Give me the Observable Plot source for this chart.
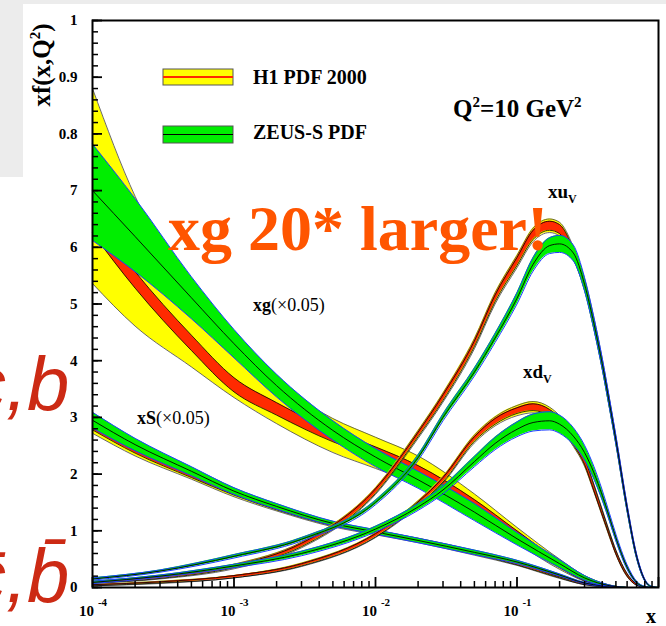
<!DOCTYPE html>
<html><head><meta charset="utf-8">
<script src="https://cdn.jsdelivr.net/npm/d3@7"></script>
<script src="https://cdn.jsdelivr.net/npm/@observablehq/plot@0.6"></script>
<style>
body{margin:0;background:#fff;}
#wrap{position:relative;width:666px;height:626px;overflow:hidden;background:#fff;}
.abs{position:absolute;}
</style></head>
<body><div id="wrap">
<div class="abs" style="left:0;top:0;width:666px;height:4px;background:#ececec"></div>
<div class="abs" style="left:0;top:0;width:23px;height:177px;background:#ececec"></div>
<div id="chart" class="abs" style="left:0;top:0"></div>
<svg id="ov" class="abs" width="666" height="626" style="left:0;top:0;overflow:hidden">
 <g font-family="Liberation Sans, Arial, sans-serif" font-style="italic" fill="#cc2a14" font-size="76">
  <text x="-32" y="410">c,b</text>
  <text x="-32" y="602">c&#772;,b&#772;</text>
 </g>
 <g font-family="Liberation Serif, Times New Roman, serif" font-weight="bold" fill="#000">
  <rect x="163" y="69" width="70" height="16" fill="#ffff00" stroke="#555" stroke-width="1"/>
  <line x1="163" x2="233" y1="77" y2="77" stroke="#ff2a00" stroke-width="2"/>
  <rect x="163" y="126" width="70" height="17" fill="#00ee00" stroke="#555" stroke-width="1"/>
  <line x1="163" x2="233" y1="134.5" y2="134.5" stroke="#000" stroke-width="1.2"/>
  <text x="253" y="84" font-size="20">H1 PDF 2000</text>
  <text x="253" y="139" font-size="20">ZEUS-S PDF</text>
  <text x="453" y="117" font-size="25">Q<tspan font-size="15" dy="-10">2</tspan><tspan dy="10">=10 GeV</tspan><tspan font-size="15" dy="-10">2</tspan></text>
  <text x="548" y="198" font-size="19">xu<tspan font-size="12" dy="5">V</tspan></text>
  <text x="523" y="378" font-size="19">xd<tspan font-size="12" dy="5">V</tspan></text>
  <text x="253" y="311" font-size="18">xg<tspan font-weight="normal">(×0.05)</tspan></text>
  <text x="137" y="424" font-size="18">xS<tspan font-weight="normal">(×0.05)</tspan></text>
  <text transform="translate(50,65) rotate(-90)" text-anchor="middle" font-size="25">xf(x,Q<tspan font-size="15" dy="-10">2</tspan><tspan dy="10">)</tspan></text>
  <text x="651" y="623" text-anchor="middle" font-size="20">x</text>
  <text x="168" y="250" font-size="64" fill="#ff5500">xg 20* larger!</text>
 </g>
</svg>
</div>
<script>
// ---------- data ----------
const seaX = [1e-4,2e-4,5e-4,1e-3,2e-3,5e-3,1e-2,2e-2,5e-2,0.1,0.2,0.3,0.4,0.5,0.6,0.7];

// xg (x0.05): H1 total (yellow) and experimental (red) bands, ZEUS-S band
const h1G_totHi = [0.88,0.69,0.524,0.42,0.36,0.298,0.265,0.232,0.165,0.106,0.050,0.021,0.008,0.002,0,0];
const h1G_totLo = [0.536,0.461,0.389,0.335,0.289,0.238,0.21,0.18,0.125,0.078,0.032,0.011,0.003,0.0005,0,0];
const h1G_expHi = [0.655,0.557,0.445,0.370,0.326,0.277,0.248,0.215,0.155,0.100,0.046,0.019,0.007,0.002,0,0];
const h1G_expLo = [0.625,0.528,0.418,0.345,0.304,0.257,0.230,0.197,0.137,0.085,0.035,0.012,0.003,0.0005,0,0];
const zeusG_hi  = [0.782,0.686,0.548,0.455,0.376,0.294,0.245,0.205,0.148,0.097,0.049,0.021,0.008,0.002,0,0];
const zeusG_mid = [0.700,0.619,0.511,0.430,0.356,0.277,0.230,0.190,0.133,0.086,0.042,0.017,0.006,0.0015,0,0];
const zeusG_lo  = [0.612,0.557,0.474,0.405,0.336,0.260,0.213,0.175,0.118,0.075,0.035,0.013,0.004,0.001,0,0];

// xS (x0.05)
const h1S_mid = [0.281,0.240,0.197,0.165,0.139,0.111,0.097,0.083,0.061,0.042,0.018,0.006,0.002,0.0005,0,0];
const h1S_tot = [0.009,0.008,0.006,0.005,0.004,0.004,0.004,0.004,0.004,0.003,0.002,0.001,0.001,0,0,0];
const h1S_exp = [0.003,0.003,0.003,0.002,0.002,0.002,0.002,0.002,0.002,0.002,0.001,0.001,0,0,0,0];
const zeusS_mid = [0.295,0.252,0.205,0.170,0.143,0.113,0.098,0.083,0.062,0.045,0.022,0.008,0.003,0.001,0,0];
const zeusS_err = [0.014,0.011,0.008,0.006,0.005,0.004,0.004,0.004,0.004,0.003,0.002,0.001,0.001,0,0,0];

const valX = [1e-4,3e-4,1e-3,3e-3,1e-2,2e-2,3e-2,5e-2,7e-2,0.1,0.13,0.17,0.2,0.25,0.3,0.35,0.4,0.45,0.5,0.6,0.7,0.8,0.9,1];

// xu_v
const h1U_mid = [0.009,0.018,0.037,0.075,0.17,0.27,0.335,0.43,0.51,0.575,0.622,0.638,0.632,0.59,0.535,0.465,0.395,0.325,0.26,0.14,0.055,0.013,0.001,0];
const h1U_tot = [0.002,0.003,0.004,0.005,0.006,0.007,0.008,0.009,0.01,0.011,0.012,0.012,0.012,0.011,0.01,0.01,0.009,0.008,0.007,0.005,0.003,0.001,0,0];
const h1U_exp = [0.001,0.002,0.002,0.003,0.004,0.004,0.005,0.005,0.006,0.007,0.008,0.008,0.008,0.007,0.006,0.006,0.005,0.005,0.004,0.003,0.002,0.001,0,0];
const zeusU_mid = [0.015,0.029,0.055,0.085,0.15,0.229,0.30,0.38,0.44,0.51,0.57,0.603,0.606,0.59,0.535,0.465,0.395,0.325,0.26,0.14,0.055,0.013,0.001,0];
const zeusU_err = [0.002,0.002,0.003,0.003,0.004,0.005,0.006,0.007,0.008,0.01,0.012,0.014,0.015,0.014,0.012,0.011,0.01,0.009,0.008,0.006,0.004,0.002,0.001,0];

// xd_v
const h1D_mid = [0.004,0.009,0.019,0.04,0.092,0.148,0.19,0.262,0.293,0.312,0.318,0.308,0.293,0.258,0.222,0.175,0.132,0.094,0.062,0.022,0.005,0.0005,0,0];
const h1D_tot = [0.001,0.002,0.002,0.003,0.004,0.005,0.006,0.007,0.008,0.009,0.01,0.01,0.01,0.009,0.008,0.007,0.006,0.005,0.004,0.003,0.001,0,0,0];
const h1D_exp = [0.001,0.001,0.002,0.002,0.003,0.003,0.004,0.004,0.005,0.005,0.006,0.006,0.006,0.006,0.005,0.005,0.004,0.003,0.003,0.002,0.001,0,0,0];
const zeusD_mid = [0.009,0.02,0.038,0.06,0.103,0.142,0.172,0.222,0.254,0.279,0.291,0.294,0.288,0.267,0.238,0.202,0.163,0.124,0.088,0.036,0.009,0.001,0,0];
const zeusD_err = [0.002,0.002,0.003,0.004,0.005,0.006,0.007,0.009,0.011,0.013,0.015,0.016,0.016,0.015,0.013,0.011,0.009,0.007,0.006,0.004,0.002,0.001,0,0];

// ticks
const yTicks = [0,0.1,0.2,0.3,0.4,0.5,0.6,0.7,0.8,0.9,1];
const yTickLabels = ["0","1","2","3","4","5","6","7","0.8","0.9","1"];
const xMajor = [1e-4,1e-3,1e-2,1e-1,1];
const xLabelVals = [1e-4,1e-3,1e-2,1e-1];
const xLabelBase = ["10","10","10","10"];
const xLabelExp = ["-4","-3","-2","-1"];

// ---------- build ----------
const C = "monotone-x";
const YEL = "#ffff00", RED = "#ff2a00", GRN = "#00ee00", BLU = "#1a3cff";
const edges = (xs, lo, hi, mid) => xs.map((x,i)=>({x, lo: lo[i], hi: hi[i], mid: mid ? mid[i] : null}));
const errs = (xs, mid, err) => xs.map((x,i)=>({x, lo: Math.max(0, mid[i]-err[i]), hi: mid[i]+err[i], mid: mid[i]}));
function band(rows, fill, edge, w){
  return [
    Plot.areaY(rows,{x:"x",y1:"lo",y2:"hi",fill,curve:C}),
    Plot.lineY(rows,{x:"x",y:"lo",stroke:edge,strokeWidth:w,curve:C}),
    Plot.lineY(rows,{x:"x",y:"hi",stroke:edge,strokeWidth:w,curve:C})
  ];
}
const center = rows => Plot.lineY(rows,{x:"x",y:"mid",stroke:"#000",strokeWidth:0.9,curve:C});

const h1Gtot = edges(seaX,h1G_totLo,h1G_totHi), h1Gexp = edges(seaX,h1G_expLo,h1G_expHi);
const zG = edges(seaX,zeusG_lo,zeusG_hi,zeusG_mid);
const h1Stot = errs(seaX,h1S_mid,h1S_tot), h1Sexp = errs(seaX,h1S_mid,h1S_exp), zS = errs(seaX,zeusS_mid,zeusS_err);
const h1Utot = errs(valX,h1U_mid,h1U_tot), h1Uexp = errs(valX,h1U_mid,h1U_exp), zU = errs(valX,zeusU_mid,zeusU_err);
const h1Dtot = errs(valX,h1D_mid,h1D_tot), h1Dexp = errs(valX,h1D_mid,h1D_exp), zD = errs(valX,zeusD_mid,zeusD_err);

const yMinor = d3.range(0,51).map(i=>i/50);
const xMinor = [-4,-3,-2,-1].flatMap(e => [2,3,4,5,6,7,8,9].map(k => k*Math.pow(10,e)));
const yLab = new Map(yTicks.map((t,i)=>[t,yTickLabels[i]]));
const xBase = new Map(xLabelVals.map((t,i)=>[t,xLabelBase[i]]));
const xExp = new Map(xLabelVals.map((t,i)=>[t,xLabelExp[i]]));

const chart = Plot.plot({
  width:666, height:626, marginLeft:92, marginRight:8, marginTop:20, marginBottom:39,
  style:{background:"transparent", fontFamily:"Liberation Serif, Times New Roman, serif", fontWeight:"bold", fontSize:"15px", color:"#000"},
  x:{type:"log", domain:[1e-4,1], axis:null},
  y:{domain:[0,1], axis:null},
  marks:[
    ...band(h1Stot,YEL,"#444",0.8), ...band(h1Sexp,RED,"#000",0.8),
    ...band(h1Gtot,YEL,"#444",0.8), ...band(h1Gexp,RED,"#000",0.8),
    ...band(zS,GRN,BLU,1), center(zS),
    ...band(zG,GRN,BLU,1), center(zG),
    ...band(h1Dtot,YEL,"#444",0.8), ...band(h1Dexp,RED,"#000",0.8),
    ...band(h1Utot,YEL,"#444",0.8), ...band(h1Uexp,RED,"#000",0.8),
    ...band(zD,GRN,BLU,1), center(zD),
    ...band(zU,GRN,BLU,1), center(zU),
    Plot.frame({stroke:"#000", strokeWidth:2}),
    Plot.axisY({ticks:yMinor, tickSize:6, dx:6, tickFormat:()=>"", strokeWidth:1.5, label:null}),
    Plot.axisY({ticks:yTicks, tickSize:10, dx:10, tickFormat:()=>"", strokeWidth:1.8, label:null}),
    Plot.axisY({ticks:yTicks, tickSize:0, tickPadding:15, tickFormat:d=>yLab.get(d), label:null}),
    Plot.axisX({ticks:xMinor, tickSize:6, dy:-6, tickFormat:()=>"", strokeWidth:1.5, label:null}),
    Plot.axisX({ticks:xMajor, tickSize:10, dy:-10, tickFormat:()=>"", strokeWidth:1.8, label:null}),
    Plot.axisX({ticks:xLabelVals, tickSize:0, tickPadding:18, dx:-6, tickFormat:d=>xBase.get(d), label:null}),
    Plot.axisX({ticks:xLabelVals, tickSize:0, tickPadding:11, dx:10, tickFormat:d=>xExp.get(d), label:null})
  ]
});
// tick label typography (bold serif, exponents smaller)
const expSet = new Set(xLabelExp);
chart.querySelectorAll("text").forEach(t => {
  const s = t.textContent;
  t.style.fontFamily = "Liberation Serif, Times New Roman, serif";
  t.style.fontWeight = "bold";
  t.style.fontSize = expSet.has(s) ? "11px" : "15px";
});
document.getElementById("chart").appendChild(chart);
</script>
</body></html>
